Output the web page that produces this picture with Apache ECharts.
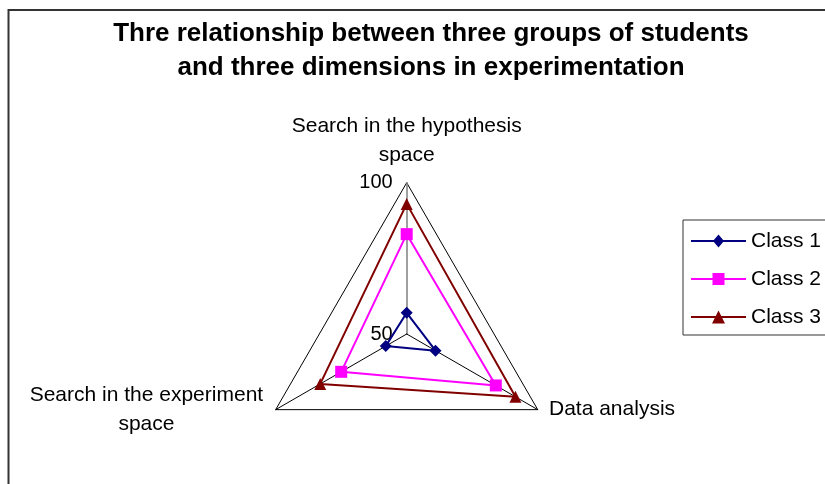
<!DOCTYPE html>
<html>
<head>
<meta charset="utf-8">
<script src="https://cdn.jsdelivr.net/npm/echarts@6/dist/echarts.min.js"></script>
<style>
html,body{margin:0;padding:0;background:#fff;}
#chart{width:825px;height:484px;}
</style>
</head>
<body>
<div id="chart"></div>
<script>
// ---- data ----
var titleLines = ['Thre relationship between three groups of students', 'and three dimensions in experimentation'];
var dimensions = ['Search in the hypothesis\nspace', 'Search in the experiment\nspace', 'Data analysis'];
var axisMin = 50;
var axisMax = 100;
var seriesNames = ['Class 1', 'Class 2', 'Class 3'];
var class1 = [57, 58, 61];
var class2 = [83, 75, 84];
var class3 = [93, 83, 91.5];

var FONT = '"Liberation Sans", Arial, sans-serif';
var colors = ['#000080', '#FF00FF', '#800000'];
var symbols = ['diamond', 'rect', 'triangle'];
var legendIcons = [
  'path://M0,5.5h55v2h-55z M27.5,0 L33,6.5 L27.5,13 L22,6.5 Z',
  'path://M0,5.5h55v2h-55z M21.5,0.5h12v12h-12z',
  'path://M0,5.5h55v2h-55z M27.5,0 L34,13 L21,13 Z'
];
var values = [class1, class2, class3];

var chart = echarts.init(document.getElementById('chart'), null, {renderer: 'canvas'});

var indicators = dimensions.map(function (d, i) {
  var ind = {name: d, min: axisMin, max: axisMax};
  if (i === 0) {
    ind.axisLabel = {show: true};
    ind.axisLine = {lineStyle: {color: '#7f7f7f', width: 1.5}};
  } else {
    ind.nameTextStyle = {padding: [0, 0, 13, 0]};
  }
  return ind;
});

var option = {
  animation: false,
  backgroundColor: '#ffffff',
  graphic: [{
    type: 'rect',
    shape: {x: 8.5, y: 10, width: 1000, height: 1000},
    style: {fill: 'none', stroke: '#333333', lineWidth: 2}
  }],
  title: {
    text: titleLines.join('\n'),
    left: 431,
    top: 17,
    padding: 0,
    textAlign: 'center',
    textStyle: {fontFamily: FONT, fontSize: 26, fontWeight: 'bold', color: '#000', lineHeight: 34}
  },
  legend: {
    orient: 'vertical',
    left: 683,
    top: 220,
    padding: [9, 30, 6, 8],
    itemWidth: 55,
    itemHeight: 13,
    itemGap: 14,
    borderColor: '#333333',
    borderWidth: 1,
    textStyle: {fontFamily: FONT, fontSize: 21, color: '#000', lineHeight: 24},
    data: seriesNames.map(function (n, i) { return {name: n, icon: legendIcons[i]}; })
  },
  radar: {
    center: [406.7, 334],
    radius: 151.3,
    startAngle: 90,
    shape: 'polygon',
    splitNumber: 1,
    nameGap: 13,
    axisName: {
      fontFamily: FONT, fontSize: 21, color: '#000', lineHeight: 29,
      formatter: function (name) {
        if (name.indexOf('experiment') >= 0) {
          return name.split('\n').map(function (l) { return '{c|' + l + '}'; }).join('\n');
        }
        return name;
      },
      rich: {
        c: {width: 236, align: 'center', fontFamily: FONT, fontSize: 21, color: '#000', lineHeight: 29}
      }
    },
    axisLine: {show: true, lineStyle: {color: '#000', width: 1}},
    axisTick: {show: false},
    axisLabel: {show: false, fontFamily: FONT, fontSize: 20, color: '#000', margin: 14},
    splitLine: {show: true, lineStyle: {color: '#000', width: 1}},
    splitArea: {show: false},
    indicator: indicators
  },
  series: [{
    type: 'radar',
    data: values.map(function (v, i) {
      return {
        name: seriesNames[i],
        value: v,
        symbol: symbols[i],
        symbolSize: 12,
        itemStyle: {color: colors[i]},
        lineStyle: {color: colors[i], width: 2}
      };
    })
  }]
};
chart.setOption(option);
</script>
</body>
</html>
